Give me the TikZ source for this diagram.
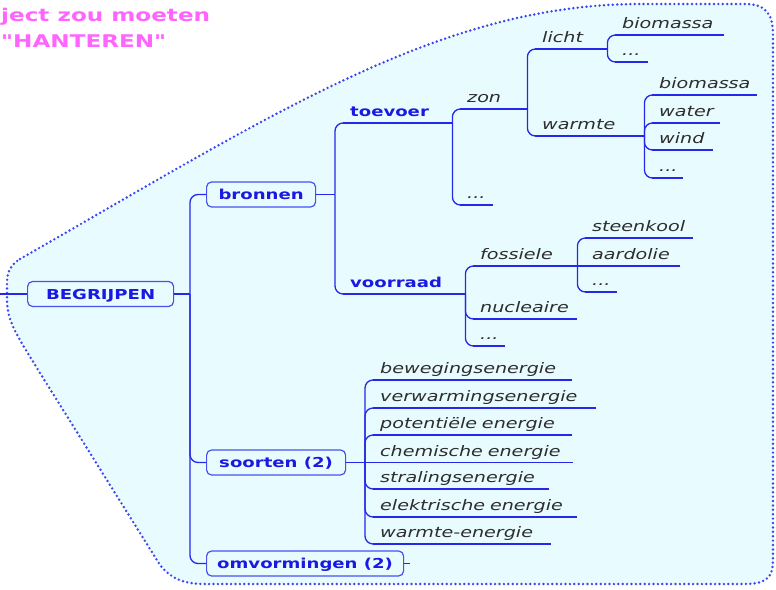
\documentclass[tikz,border=0pt]{standalone}
\usepackage{fontspec}
\usepackage{tikz}
\newfontfamily\mapbold[FakeStretch=1.32]{DejaVu Sans Bold}
\newfontfamily\mapital[FakeStretch=1.32]{DejaVu Sans Oblique}
\definecolor{zonefill}{RGB}{232,252,255}
\definecolor{dotblue}{RGB}{60,70,240}
\definecolor{linkblue}{RGB}{35,40,235}
\definecolor{boxblue}{RGB}{70,80,240}
\definecolor{topicblue}{RGB}{25,25,225}
\definecolor{leafgray}{RGB}{45,45,45}
\definecolor{titlepink}{RGB}{255,100,255}
\tikzset{
  zone/.style={fill=zonefill, draw=dotblue, line width=2.7pt, line cap=round, dash pattern=on 0pt off 4.4pt},
  link/.style={draw=linkblue, line width=1.3pt, rounded corners=8pt},
  topic/.style={draw=boxblue, line width=1.2pt, rounded corners=5pt, fill=zonefill, text=topicblue,
    font=\mapbold\fontsize{13.7}{16}\selectfont, anchor=west, inner sep=0pt,
    text height=10pt, text depth=0pt, minimum height=25pt},
  leaf/.style={anchor=south west, inner sep=0pt, text width=#1pt, align=left,
    text height=11pt, text depth=6pt, execute at begin node={\hspace*{7pt}},
    font=\mapital\fontsize{14.5}{17}\selectfont, text=leafgray},
  sublbl/.style={leaf=#1, font=\mapbold\fontsize{13.7}{16}\selectfont, text=topicblue},
  title/.style={anchor=base west, inner sep=0pt, text=titlepink, font=\mapbold\fontsize{17.5}{20}\selectfont}
}
\begin{document}
\begin{tikzpicture}[x=1pt, y=-1pt]
\useasboundingbox[fill=white] (0,0) rectangle (776,589);

% zone round the map
\draw[zone] (20,259) .. controls (270,116) and (440,4) .. (640,4) -- (745,4)
  .. controls (766,4) and (773,14) .. (773,35) -- (773,561)
  .. controls (773,577) and (766,584) .. (745,584) -- (205,584)
  .. controls (186,584) and (172,580) .. (160,565) -- (40,373)
  .. controls (18,337) and (7,322) .. (7,300) -- (7,282)
  .. controls (7,271) and (12,264) .. cycle;

% title (cut off at the left)
\node[title] (ttlA) at (1,21) {ject zou moeten};
\node[title] (ttlB) at (1,47) {"HANTEREN"};

% topics
\node[topic, minimum width=146pt] (begrip) at (27,294) {BEGRIJPEN};
\node[topic, minimum width=109pt] (bronnen) at (206,194.5) {bronnen};
\node[topic, minimum width=139pt] (soorten) at (206,462.5) {soorten (2)};
\node[topic, minimum width=197pt] (omvorm) at (206,563.5) {omvormingen (2)};

\coordinate (lin) at (0,294);
\coordinate (jmain) at (190,294);
\coordinate (jbron) at (335,194.5);
\coordinate (jsoort) at (365,462.5);
\coordinate (omvend) at (410,563.5);

% bronnen
\node[sublbl=109] (toevoer) at (343,123) {toevoer};
\node[sublbl=122] (voorraad) at (343,294) {voorraad};
\node[leaf=67] (zon) at (460,109) {zon};
\node[leaf=33] (dotsA) at (460,205) {...};
\node[leaf=72] (licht) at (535,49) {licht};
\node[leaf=109] (warmte) at (535,136) {warmte};
\node[leaf=109] (bioA) at (615,35) {biomassa};
\node[leaf=33] (dotsB) at (615,62) {...};
\node[leaf=105] (bioB) at (652,95) {biomassa};
\node[leaf=68] (water) at (652,123) {water};
\node[leaf=61] (wind) at (652,150) {wind};
\node[leaf=31] (dotsC) at (652,178) {...};
\node[leaf=104] (fossiele) at (473,266) {fossiele};
\node[leaf=108] (steenkool) at (585,238) {steenkool};
\node[leaf=95] (aardolie) at (585,266) {aardolie};
\node[leaf=32] (dotsD) at (585,292) {...};
\node[leaf=104] (nucleaire) at (473,319) {nucleaire};
\node[leaf=32] (dotsE) at (473,346) {...};

% soorten
\node[leaf=199] (beweging) at (373,380) {bewegingsenergie};
\node[leaf=223] (verwarming) at (373,408) {verwarmingsenergie};
\node[leaf=199] (potentieel) at (373,435) {potentiële energie};
\node[leaf=200] (chemisch) at (373,462.5) {chemische energie};
\node[leaf=176] (straling) at (373,489) {stralingsenergie};
\node[leaf=204] (elektrisch) at (373,517) {elektrische energie};
\node[leaf=178] (warmteE) at (373,544) {warmte-energie};

% underlines
\foreach \n in {toevoer,voorraad,zon,dotsA,licht,warmte,bioA,dotsB,bioB,water,wind,dotsC,
    fossiele,steenkool,aardolie,dotsD,nucleaire,dotsE,
    beweging,verwarming,potentieel,chemisch,straling,elektrisch,warmteE}
  \draw[link] (\n.south west) -- (\n.south east);

% connectors
\draw[link] (lin) -- (begrip.west);
\draw[link] (begrip.east) -- (jmain);
\foreach \c in {bronnen,soorten,omvorm}
  \draw[link] (jmain) |- (\c.west);
\draw[link] (omvorm.east) -- (omvend);
\draw[link] (bronnen.east) -- (jbron);
\foreach \c in {toevoer,voorraad}
  \draw[link] (jbron) |- (\c.south west);
\foreach \c in {zon,dotsA}
  \draw[link] (toevoer.south east) |- (\c.south west);
\foreach \c in {licht,warmte}
  \draw[link] (zon.south east) |- (\c.south west);
\foreach \c in {bioA,dotsB}
  \draw[link] (licht.south east) |- (\c.south west);
\foreach \c in {bioB,water,wind,dotsC}
  \draw[link] (warmte.south east) |- (\c.south west);
\foreach \c in {fossiele,nucleaire,dotsE}
  \draw[link] (voorraad.south east) |- (\c.south west);
\foreach \c in {steenkool,dotsD}
  \draw[link] (fossiele.south east) |- (\c.south west);
\draw[link] (fossiele.south east) -- (aardolie.south west);
\draw[link] (soorten.east) -- (jsoort);
\foreach \c in {beweging,verwarming,potentieel,straling,elektrisch,warmteE}
  \draw[link] (jsoort) |- (\c.south west);
\draw[link] (jsoort) -- (chemisch.south west);
\end{tikzpicture}
\end{document}
